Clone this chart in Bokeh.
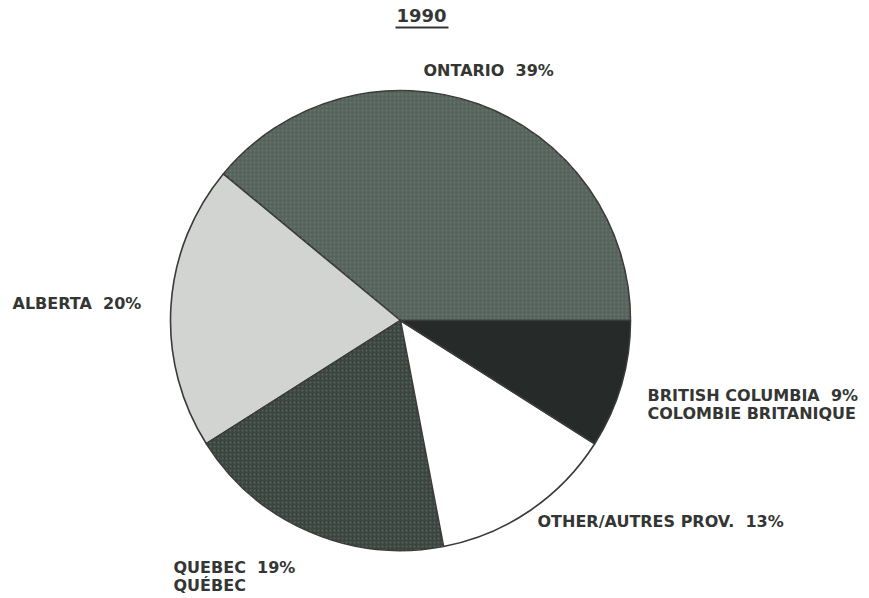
from math import pi
import numpy as np
from bokeh.plotting import figure
from bokeh.models import ColumnDataSource, Range1d, Label
from bokeh.embed import file_html
from bokeh.resources import INLINE

# ---- data ----
title_text = "1990"
provinces = ["ONTARIO", "ALBERTA", "QUEBEC", "OTHER/AUTRES PROV.", "BRITISH COLUMBIA"]
shares = [39, 20, 19, 13, 9]
label_line1 = ["ONTARIO\u00a0 39%", "ALBERTA\u00a0 20%", "QUEBEC\u00a0 19%",
               "OTHER/AUTRES PROV.\u00a0 13%", "BRITISH COLUMBIA\u00a0 9%"]
label_line2 = ["", "", "QUÉBEC", "", "COLOMBIE BRITANIQUE"]

# ---- styles / layout ----
W, H = 869, 598
fills = ["#56645d", "#d2d4d2", "#3c4641", "#ffffff", "#262a28"]
cx, cy, R = 400, H - 320, 230
label_pos = [(423, 70), (12, 303), (173, 567), (537, 521), (647, 395)]
line_gap = 18
font = "DejaVu Sans"
txt_color = "#343634"

frac = np.array(shares, dtype=float) / sum(shares)
ends = np.cumsum(frac) * 2 * pi
starts = np.concatenate([[0.0], ends[:-1]])

src = ColumnDataSource(dict(prov=provinces, start=starts, end=ends, color=fills))

p = figure(width=W, height=H, output_backend="svg", toolbar_location=None,
           x_range=Range1d(0, W), y_range=Range1d(0, H),
           x_axis_type=None, y_axis_type=None, min_border=0)
p.grid.visible = False
p.outline_line_color = None
p.background_fill_color = "white"
p.border_fill_color = "white"

p.wedge(x=cx, y=cy, radius=R, start_angle="start", end_angle="end",
        fill_color="color", line_color="#3a3a3a", line_width=1.6, source=src)

# halftone-like texture on the dark slices
p.wedge(x=cx, y=cy, radius=R, start_angle="start", end_angle="end",
        fill_alpha=0, line_alpha=0, hatch_pattern="dot", hatch_color="#8a9890",
        hatch_alpha=0.35, hatch_scale=4,
        source=ColumnDataSource(dict(start=starts[[0, 2]], end=ends[[0, 2]])))

for (lx, ly), l1, l2 in zip(label_pos, label_line1, label_line2):
    p.add_layout(Label(x=lx, y=H - ly, text=l1, text_font=font, text_font_style="bold",
                       text_font_size="16px", text_color=txt_color,
                       text_align="left", text_baseline="middle"))
    if l2:
        p.add_layout(Label(x=lx, y=H - ly - line_gap, text=l2, text_font=font,
                           text_font_style="bold", text_font_size="16px",
                           text_color=txt_color, text_align="left", text_baseline="middle"))

# title with underline
p.add_layout(Label(x=421, y=H - 15, text=title_text, text_font=font, text_font_style="bold",
                   text_font_size="18px", text_color=txt_color,
                   text_align="center", text_baseline="middle"))
p.segment(x0=[395], y0=[H - 27], x1=[448], y1=[H - 27], line_color=txt_color, line_width=2)

open("out.html", "w").write(file_html(p, INLINE))
